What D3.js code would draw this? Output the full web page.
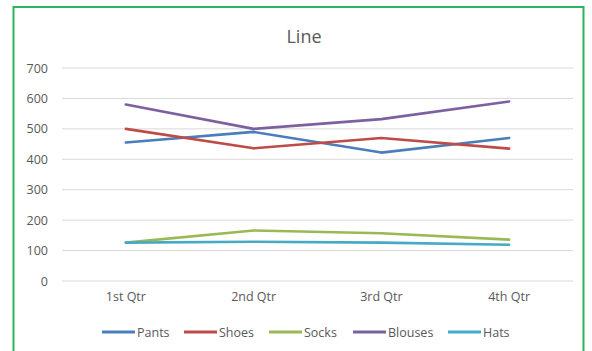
<!DOCTYPE html>
<html><head><meta charset="utf-8">
<script src="https://cdn.jsdelivr.net/npm/d3@7"></script>
<style>
html,body{margin:0;padding:0;background:#fff;}
svg{display:block;}
text{font-family:"Open Sans",sans-serif;fill:#595959;}
</style></head>
<body>
<svg id="chart" width="592" height="351"></svg>
<script>
const categories = ["1st Qtr","2nd Qtr","3rd Qtr","4th Qtr"];
const seriesNames = ["Pants","Shoes","Socks","Blouses","Hats"];
const pants   = [455, 490, 422, 470];
const shoes   = [500, 436, 470, 435];
const socks   = [126, 166, 157, 136];
const blouses = [580, 500, 532, 590];
const hats    = [126, 129, 126, 119];
const yTicks  = [0,100,200,300,400,500,600,700];
const colors  = ["#4A7EBB","#BE4B48","#98B954","#7D60A0","#46AAC5"];
const title = "Line";

const series = [pants, shoes, socks, blouses, hats].map((v,i)=>({name:seriesNames[i], values:v, color:colors[i]}));

const svg = d3.select("#chart");
const plot = {left:62, right:573, top:68, bottom:281};

// border
svg.append("rect").attr("x",13.5).attr("y",7).attr("width",570).attr("height",360)
  .attr("fill","#fff").attr("stroke","#2DB35F").attr("stroke-width",2);

const x = d3.scaleBand().domain(categories).range([plot.left, plot.right]);
const y = d3.scaleLinear().domain([0,700]).range([plot.bottom, plot.top]);

// gridlines
svg.append("g").selectAll("line").data(yTicks).join("line")
  .attr("x1",plot.left).attr("x2",plot.right)
  .attr("y1",d=>y(d)).attr("y2",d=>y(d))
  .attr("stroke","#D9D9D9").attr("stroke-width",1);

// y axis labels
const yAxis = d3.axisLeft(y).tickValues(yTicks).tickSize(0).tickPadding(0);
const gy = svg.append("g").attr("transform",`translate(${plot.left-14},0)`).call(yAxis);
gy.select(".domain").remove();
gy.selectAll("text").attr("font-family","Open Sans").attr("font-size","12.5px")
  .attr("fill","#767676");

// x axis labels
const xAxis = d3.axisBottom(x).tickSize(0).tickPadding(0);
const gx = svg.append("g").attr("transform",`translate(0,${plot.bottom+11})`).call(xAxis);
gx.select(".domain").remove();
gx.selectAll("text").attr("font-family","Open Sans").attr("font-size","12.5px").attr("fill","#767676");

// lines
const line = d3.line().x((d,i)=>x(categories[i])+x.bandwidth()/2).y(d=>y(d));
svg.append("g").selectAll("path").data(series).join("path")
  .attr("d",d=>line(d.values)).attr("fill","none")
  .attr("stroke",d=>d.color).attr("stroke-width",2.6)
  .attr("stroke-linejoin","round").attr("stroke-linecap","round");

// title
svg.append("text").attr("x",304).attr("y",43).attr("text-anchor","middle")
  .attr("font-size","18px").attr("fill","#595959").text(title);

// legend
const legendX = [102,184,269,353,448];
const lg = svg.append("g").selectAll("g").data(series).join("g")
  .attr("transform",(d,i)=>`translate(${legendX[i]},332)`);
lg.append("line").attr("x1",0).attr("x2",33).attr("y1",0).attr("y2",0)
  .attr("stroke",d=>d.color).attr("stroke-width",2.8);
lg.append("text").attr("x",35).attr("y",4.5).attr("font-size","12.5px").attr("fill","#767676")
  .text(d=>d.name);
</script>
</body></html>
